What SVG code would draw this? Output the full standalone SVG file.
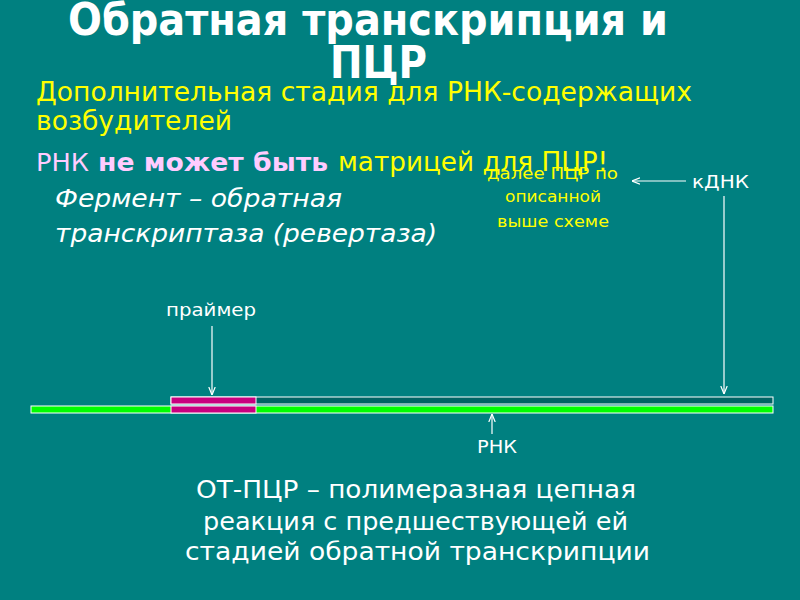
<svg xmlns="http://www.w3.org/2000/svg" width="800" height="600" viewBox="0 0 800 600">
<defs>
<style>
text{font-family:"DejaVu Sans Condensed","DejaVu Sans",sans-serif}
.title{fill:#fff;font-size:44px;font-weight:bold}
.y{fill:#ffff00;font-size:26px}
.pk{fill:#ffccff;font-size:25px}
.it{fill:#fff;font-size:24px;font-style:italic}
.sm{fill:#ffff00;font-size:16px}
.lb{fill:#fff;font-size:18px}
.bt{fill:#fff;font-size:24px}
.ln{stroke:#fff;stroke-width:1.2;fill:none}
</style>
<marker id="ah" viewBox="0 0 10 10" refX="10" refY="5" markerWidth="8" markerHeight="8" orient="auto" markerUnits="userSpaceOnUse">
<path d="M0,1 L10,5 L0,9" fill="none" stroke="#fff" stroke-width="1.5"/>
</marker>
</defs>
<rect width="800" height="600" fill="#008080"/>
<g id="title">
<text class="title" x="68" y="35" textLength="600" lengthAdjust="spacingAndGlyphs">Обратная транскрипция и</text>
<text class="title" x="330" y="78" textLength="97" lengthAdjust="spacingAndGlyphs">ПЦР</text>
</g>
<g id="intro">
<text class="y" x="36" y="101" textLength="656" lengthAdjust="spacingAndGlyphs">Дополнительная стадия для РНК-содержащих</text>
<text class="y" x="36" y="130" textLength="196" lengthAdjust="spacingAndGlyphs">возбудителей</text>
<text class="pk" x="36" y="171" textLength="53" lengthAdjust="spacingAndGlyphs">РНК</text>
<text class="pk" x="98" y="171" font-weight="bold" textLength="230" lengthAdjust="spacingAndGlyphs">не может быть</text>
<text class="y" x="338" y="171" font-size="25" textLength="270" lengthAdjust="spacingAndGlyphs">матрицей для ПЦР!</text>
<text class="it" x="55" y="207" textLength="287" lengthAdjust="spacingAndGlyphs">Фермент – обратная</text>
<text class="it" x="55" y="242" textLength="382" lengthAdjust="spacingAndGlyphs">транскриптаза (ревертаза)</text>
</g>
<g id="note">
<text class="sm" x="487" y="179" textLength="131" lengthAdjust="spacingAndGlyphs">далее ПЦР по</text>
<text class="sm" x="505" y="202" textLength="96" lengthAdjust="spacingAndGlyphs">описанной</text>
<text class="sm" x="497" y="227" textLength="112" lengthAdjust="spacingAndGlyphs">выше схеме</text>
</g>
<g id="cdna-label">
<text class="lb" x="692" y="188" textLength="57" lengthAdjust="spacingAndGlyphs">кДНК</text>
</g>
<g id="primer-label">
<text class="lb" x="166" y="316" font-size="17" textLength="90" lengthAdjust="spacingAndGlyphs">праймер</text>
</g>
<g id="rna-label">
<text class="lb" x="477" y="453" textLength="40" lengthAdjust="spacingAndGlyphs">РНК</text>
</g>
<g id="strands">
<rect x="171" y="397" width="602" height="7" fill="#006464" stroke="#fff" stroke-width="1"/>
<rect x="31" y="406" width="742" height="7" fill="#00ff00" stroke="#fff" stroke-width="1"/>
<rect x="171" y="397" width="85" height="7" fill="#c8007f" stroke="#fff" stroke-width="1"/>
<rect x="171" y="406" width="85" height="7" fill="#c8007f" stroke="#fff" stroke-width="1"/>
</g>
<g id="connectors">
<line class="ln" x1="686" y1="181" x2="632" y2="181" marker-end="url(#ah)"/>
<line class="ln" x1="724" y1="196" x2="724" y2="394" marker-end="url(#ah)"/>
<line class="ln" x1="212" y1="326" x2="212" y2="395" marker-end="url(#ah)"/>
<line class="ln" x1="492" y1="434" x2="492" y2="414" marker-end="url(#ah)"/>
</g>
<g id="summary">
<text class="bt" x="196" y="498" textLength="440" lengthAdjust="spacingAndGlyphs">ОТ-ПЦР – полимеразная цепная</text>
<text class="bt" x="203" y="530" textLength="425" lengthAdjust="spacingAndGlyphs">реакция с предшествующей ей</text>
<text class="bt" x="185" y="560" textLength="465" lengthAdjust="spacingAndGlyphs">стадией обратной транскрипции</text>
</g>
</svg>
